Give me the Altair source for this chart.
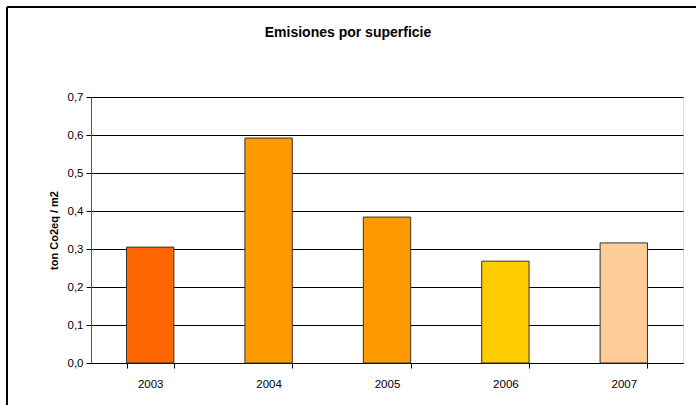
import altair as alt
import pandas as pd

years = ["2003", "2004", "2005", "2006", "2007"]
values = [0.305, 0.592, 0.384, 0.268, 0.316]
colors = ["#FF6600", "#FF9900", "#FF9900", "#FFCC00", "#FFCC99"]

df = pd.DataFrame({"year": years, "value": values, "color": colors})

FONT = "Liberation Sans"

bars = alt.Chart(df).mark_bar(stroke="#333333", strokeWidth=1).encode(
    x=alt.X("year:N", sort=years,
            scale=alt.Scale(paddingInner=0.6, paddingOuter=0.3),
            axis=alt.Axis(title=None, labelAngle=0, tickBand="extent",
                          labelPadding=10, tickSize=5, domainColor="#000000",
                          tickColor="#000000", labelFont=FONT, labelFontSize=11.5,
                          labelColor="#000000", grid=False)),
    y=alt.Y("value:Q", scale=alt.Scale(domain=[0, 0.7], nice=False),
            axis=alt.Axis(title="ton Co2eq / m2", values=[0, 0.1, 0.2, 0.3, 0.4, 0.5, 0.6, 0.7],
                          labelExpr="replace(format(datum.value, '.1f'), '.', ',')",
                          tickSize=5, labelPadding=3, domainColor="#555555",
                          tickColor="#000000", gridColor="#000000", gridWidth=1,
                          labelFont=FONT, labelFontSize=11.5, labelColor="#000000",
                          titleFont=FONT, titleFontSize=11, titleFontWeight="bold",
                          titleColor="#000000", titlePadding=8)),
    color=alt.Color("color:N", scale=None),
)

frame_left = alt.Chart(df).mark_rule(color="#000000", strokeWidth=1.5).encode(
    x=alt.value(-84), y=alt.value(-90), y2=alt.value(320))
frame_top = alt.Chart(df).mark_rule(color="#000000", strokeWidth=1.5).encode(
    x=alt.value(-84), x2=alt.value(620), y=alt.value(-90))

chart = alt.layer(bars, frame_left, frame_top).properties(
    width=592, height=266,
    autosize=alt.AutoSizeParams(type="none"),
    padding={"left": 91, "top": 97, "right": 13, "bottom": 42},
    title=alt.TitleParams("Emisiones por superficie", font=FONT, fontSize=14,
                          fontWeight="bold", color="#000000", dx=-39, dy=34, offset=0),
).configure_view(fill="#C0C0C0", stroke="#808080").configure(background="#FFFFFF")

chart.save("out.html", embed_options={"renderer": "svg", "actions": False})
